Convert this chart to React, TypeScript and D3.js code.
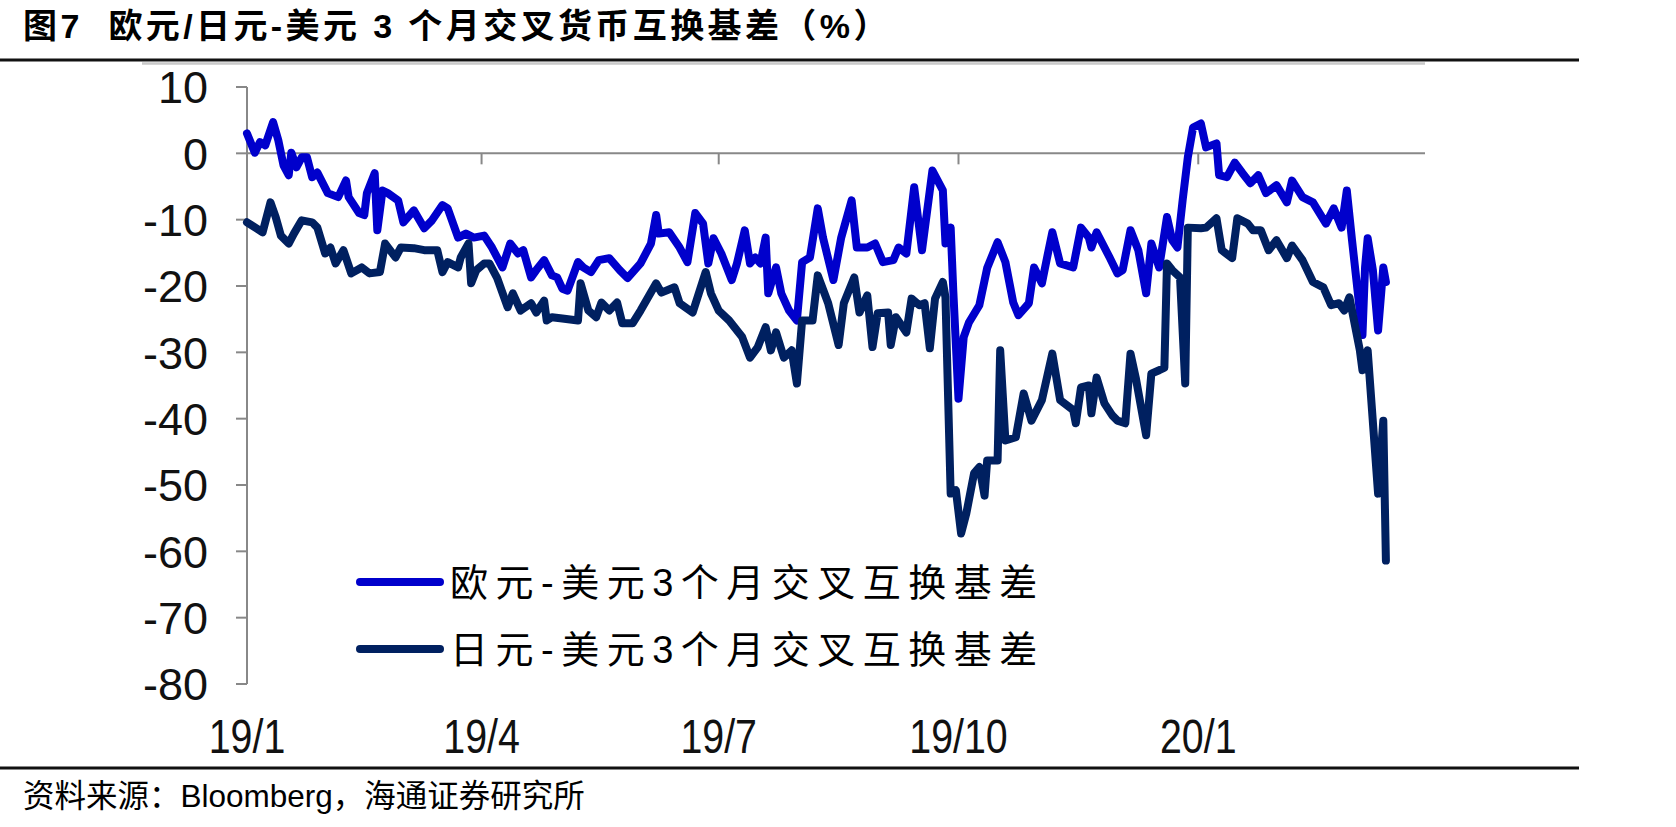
import * as d3 from 'd3';

// EUR-USD 3M cross currency basis (bp)
const eurDates = [
  '2019-01-01', '2019-01-04', '2019-01-06', '2019-01-08', '2019-01-11', '2019-01-13', '2019-01-15', '2019-01-17',
  '2019-01-18', '2019-01-20', '2019-01-22', '2019-01-24', '2019-01-26', '2019-01-28', '2019-02-01', '2019-02-05',
  '2019-02-08', '2019-02-09', '2019-02-13', '2019-02-15', '2019-02-16', '2019-02-19', '2019-02-20', '2019-02-22',
  '2019-02-24', '2019-02-28', '2019-03-02', '2019-03-06', '2019-03-10', '2019-03-13', '2019-03-17', '2019-03-19',
  '2019-03-23', '2019-03-26', '2019-03-29', '2019-04-02', '2019-04-05', '2019-04-09', '2019-04-12', '2019-04-15',
  '2019-04-17', '2019-04-20', '2019-04-22', '2019-04-25', '2019-04-28', '2019-04-30', '2019-05-02', '2019-05-04',
  '2019-05-08', '2019-05-10', '2019-05-13', '2019-05-16', '2019-05-20', '2019-05-24', '2019-05-27', '2019-06-01',
  '2019-06-05', '2019-06-07', '2019-06-08', '2019-06-12', '2019-06-16', '2019-06-19', '2019-06-22', '2019-06-25',
  '2019-06-27', '2019-06-29', '2019-07-02', '2019-07-06', '2019-07-08', '2019-07-11', '2019-07-13', '2019-07-15',
  '2019-07-17', '2019-07-19', '2019-07-20', '2019-07-23', '2019-07-25', '2019-07-28', '2019-07-31', '2019-08-02',
  '2019-08-05', '2019-08-08', '2019-08-10', '2019-08-14', '2019-08-17', '2019-08-21', '2019-08-23', '2019-08-27',
  '2019-08-30', '2019-09-02', '2019-09-06', '2019-09-08', '2019-09-11', '2019-09-14', '2019-09-17', '2019-09-21',
  '2019-09-25', '2019-09-26', '2019-09-28', '2019-09-29', '2019-10-01', '2019-10-03', '2019-10-05', '2019-10-09',
  '2019-10-12', '2019-10-16', '2019-10-19', '2019-10-22', '2019-10-24', '2019-10-28', '2019-10-30', '2019-11-02',
  '2019-11-04', '2019-11-06', '2019-11-09', '2019-11-14', '2019-11-17', '2019-11-20', '2019-11-21', '2019-11-23',
  '2019-11-28', '2019-12-01', '2019-12-03', '2019-12-06', '2019-12-09', '2019-12-12', '2019-12-14', '2019-12-17',
  '2019-12-20', '2019-12-22', '2019-12-24', '2019-12-26', '2019-12-28', '2019-12-30', '2020-01-02', '2020-01-04',
  '2020-01-06', '2020-01-08', '2020-01-09', '2020-01-12', '2020-01-15', '2020-01-18', '2020-01-21', '2020-01-24',
  '2020-01-27', '2020-01-31', '2020-02-04', '2020-02-06', '2020-02-10', '2020-02-14', '2020-02-19', '2020-02-22',
  '2020-02-25', '2020-02-27', '2020-02-29', '2020-03-04', '2020-03-05', '2020-03-06', '2020-03-08', '2020-03-10',
  '2020-03-12', '2020-03-13',
];
const eurBasis = [
  3.0, 0.1, 1.7, 1.2, 4.7, 2.0, -1.8, -3.3,
  0.1, -2.1, -0.6, -0.6, -3.6, -2.9, -6.0, -6.6,
  -4.1, -6.6, -9.0, -9.3, -6.0, -3.0, -11.6, -5.6,
  -6.0, -7.1, -10.4, -8.6, -11.3, -10.1, -7.8, -8.3,
  -12.7, -12.1, -12.7, -12.4, -14.2, -17.2, -13.6, -15.1,
  -14.6, -18.7, -17.6, -16.1, -18.4, -18.7, -20.4, -20.7,
  -16.4, -17.2, -17.9, -16.1, -15.8, -17.6, -18.8, -16.6,
  -13.6, -9.3, -12.1, -11.9, -14.2, -16.4, -9.0, -10.6,
  -16.6, -12.8, -15.1, -19.1, -16.6, -11.6, -16.6, -15.7,
  -16.6, -12.7, -21.1, -17.2, -21.1, -23.7, -25.2, -16.4,
  -15.7, -8.3, -12.7, -19.1, -12.7, -7.1, -14.2, -14.2,
  -13.6, -16.4, -16.1, -14.2, -15.1, -5.1, -14.6, -2.6,
  -5.6, -13.6, -11.2, -20.7, -37.0, -27.7, -25.5, -22.9,
  -17.3, -13.4, -16.4, -22.5, -24.4, -22.6, -17.2, -19.6,
  -15.7, -11.9, -16.6, -17.2, -11.2, -12.7, -14.2, -11.9,
  -15.7, -18.1, -17.6, -11.6, -14.6, -21.1, -13.6, -17.2,
  -9.6, -13.1, -14.2, -7.1, -0.6, 3.9, 4.5, 0.9,
  1.2, 1.5, -3.3, -3.6, -1.4, -3.0, -4.5, -3.3,
  -6.0, -4.8, -7.4, -4.1, -6.6, -7.4, -10.6, -8.3,
  -11.2, -5.6, -13.1, -27.4, -17.2, -12.8, -17.6, -26.7,
  -17.2, -19.4,
];

// JPY-USD 3M cross currency basis
const jpyDates = [
  '2019-01-01', '2019-01-07', '2019-01-10', '2019-01-12', '2019-01-14', '2019-01-17', '2019-01-19', '2019-01-22',
  '2019-01-26', '2019-01-28', '2019-01-31', '2019-02-02', '2019-02-04', '2019-02-07', '2019-02-10', '2019-02-14',
  '2019-02-17', '2019-02-21', '2019-02-23', '2019-02-27', '2019-03-01', '2019-03-06', '2019-03-10', '2019-03-15',
  '2019-03-17', '2019-03-19', '2019-03-23', '2019-03-24', '2019-03-27', '2019-03-28', '2019-03-30', '2019-04-02',
  '2019-04-04', '2019-04-07', '2019-04-11', '2019-04-13', '2019-04-16', '2019-04-20', '2019-04-22', '2019-04-25',
  '2019-04-26', '2019-04-28', '2019-05-02', '2019-05-08', '2019-05-09', '2019-05-12', '2019-05-15', '2019-05-17',
  '2019-05-20', '2019-05-23', '2019-05-25', '2019-05-29', '2019-06-01', '2019-06-07', '2019-06-09', '2019-06-14',
  '2019-06-16', '2019-06-21', '2019-06-26', '2019-06-28', '2019-07-01', '2019-07-05', '2019-07-10', '2019-07-13',
  '2019-07-16', '2019-07-19', '2019-07-21', '2019-07-23', '2019-07-26', '2019-07-29', '2019-07-31', '2019-08-02',
  '2019-08-06', '2019-08-08', '2019-08-12', '2019-08-16', '2019-08-18', '2019-08-22', '2019-08-24', '2019-08-27',
  '2019-08-29', '2019-08-31', '2019-09-04', '2019-09-05', '2019-09-07', '2019-09-11', '2019-09-13', '2019-09-16',
  '2019-09-18', '2019-09-20', '2019-09-22', '2019-09-25', '2019-09-26', '2019-09-28', '2019-09-30', '2019-10-02',
  '2019-10-04', '2019-10-07', '2019-10-09', '2019-10-11', '2019-10-12', '2019-10-16', '2019-10-17', '2019-10-19',
  '2019-10-23', '2019-10-26', '2019-10-29', '2019-11-02', '2019-11-06', '2019-11-09', '2019-11-14', '2019-11-15',
  '2019-11-17', '2019-11-20', '2019-11-21', '2019-11-23', '2019-11-26', '2019-11-29', '2019-12-01', '2019-12-04',
  '2019-12-06', '2019-12-08', '2019-12-12', '2019-12-14', '2019-12-17', '2019-12-19', '2019-12-20', '2019-12-22',
  '2019-12-25', '2019-12-27', '2019-12-28', '2020-01-02', '2020-01-04', '2020-01-08', '2020-01-10', '2020-01-14',
  '2020-01-16', '2020-01-20', '2020-01-22', '2020-01-25', '2020-01-28', '2020-01-31', '2020-02-04', '2020-02-06',
  '2020-02-10', '2020-02-14', '2020-02-18', '2020-02-21', '2020-02-24', '2020-02-26', '2020-02-28', '2020-03-03',
  '2020-03-04', '2020-03-06', '2020-03-10', '2020-03-12', '2020-03-13',
];
const jpyBasis = [
  -10.4, -11.9, -7.4, -9.6, -12.4, -13.6, -12.1, -10.1,
  -10.4, -11.2, -15.1, -14.2, -16.6, -14.6, -18.1, -17.2,
  -18.1, -17.9, -13.6, -15.7, -14.2, -14.3, -14.6, -14.6,
  -17.9, -16.4, -17.2, -15.7, -13.6, -19.6, -17.6, -16.6,
  -16.6, -18.8, -23.2, -21.1, -23.7, -22.6, -24.0, -22.2,
  -25.2, -24.7, -24.9, -25.2, -19.6, -23.7, -24.7, -22.5,
  -23.7, -22.5, -25.6, -25.6, -23.7, -19.6, -21.0, -20.2,
  -22.6, -24.0, -17.9, -21.1, -23.7, -25.2, -27.7, -30.8,
  -29.2, -26.2, -29.7, -27.0, -30.8, -29.7, -34.7, -25.2,
  -25.2, -18.4, -22.6, -28.9, -22.6, -18.7, -24.0, -21.4,
  -29.2, -24.1, -24.0, -28.9, -24.7, -27.0, -21.9, -22.9,
  -22.6, -29.4, -21.9, -19.4, -21.7, -51.3, -50.8, -57.3,
  -54.3, -48.2, -47.3, -51.6, -46.3, -46.3, -29.7, -43.3,
  -42.8, -36.2, -40.3, -37.2, -30.2, -37.2, -38.7, -40.7,
  -35.3, -35.0, -39.2, -33.8, -37.7, -39.5, -40.3, -40.7,
  -30.2, -33.8, -42.5, -33.2, -32.7, -32.3, -16.6, -17.6,
  -18.7, -34.7, -11.2, -11.3, -11.2, -9.8, -14.6, -15.8,
  -9.8, -10.6, -11.6, -11.6, -14.6, -13.1, -15.8, -13.9,
  -16.1, -19.4, -20.2, -22.9, -22.6, -23.7, -21.7, -29.7,
  -32.7, -29.7, -51.3, -40.3, -61.4,
];

const quarterTicks = ['2019-01-01', '2019-04-01', '2019-07-01', '2019-10-01', '2020-01-01'];
const quarterLabels = ['19/1', '19/4', '19/7', '19/10', '20/1'];
const yTicks = [10, 0, -10, -20, -30, -40, -50, -60, -70, -80];
const seriesNames = ['欧元-美元3个月交叉互换基差', '日元-美元3个月交叉互换基差'];
const seriesColors = ['#0000cc', '#002060'];

const W = 1676;
const H = 827;
const plot = { left: 247, right: 1425, top: 87, bottom: 684 };
const fontStack = "'Liberation Sans', Arial, 'Noto Sans CJK SC', sans-serif";

export default function App() {
  const parse = d3.utcParse('%Y-%m-%d');
  const x = d3.scaleUtc()
    .domain([parse('2019-01-01')!, parse('2020-03-28')!])
    .range([plot.left, plot.right]);
  const y = d3.scaleLinear().domain([-80, 10]).range([plot.bottom, plot.top]);

  const line = d3.line<[Date, number]>()
    .x(d => x(d[0]))
    .y(d => y(d[1]));

  const series = [
    eurDates.map((d, i) => [parse(d)!, eurBasis[i]] as [Date, number]),
    jpyDates.map((d, i) => [parse(d)!, jpyBasis[i]] as [Date, number]),
  ];

  const axisColor = '#888888';

  return (
    <svg
      width={W}
      height={H}
      viewBox={`0 0 ${W} ${H}`}
      style={{ position: 'absolute', left: 0, top: 0, background: '#fff' }}
    >
      {/* title */}
      <text
        x={23}
        y={38}
        fontFamily={fontStack}
        fontWeight={700}
        fontSize={34}
        letterSpacing={3.4}
        style={{ whiteSpace: 'pre' }}
        fill="#000"
      >
        {'图7  欧元/日元-美元 3 个月交叉货币互换基差（%）'}
      </text>
      <line x1={0} x2={1579} y1={60} y2={60} stroke="#111" strokeWidth={3} />
      <line x1={142} x2={plot.right} y1={63.5} y2={63.5} stroke="#c8c8c8" strokeWidth={2.5} />

      {/* y axis */}
      <line x1={plot.left} x2={plot.left} y1={y(10)} y2={y(-80)} stroke={axisColor} strokeWidth={2} />
      {yTicks.map(t => (
        <g key={t}>
          <line x1={plot.left - 11} x2={plot.left} y1={y(t)} y2={y(t)} stroke={axisColor} strokeWidth={2} />
          <text
            x={208}
            y={y(t)}
            dy="0.36em"
            textAnchor="end"
            fontFamily={fontStack}
            fontSize={45}
            fill="#111"
          >
            {t}
          </text>
        </g>
      ))}

      {/* x axis on the zero line */}
      <line x1={plot.left} x2={plot.right} y1={y(0)} y2={y(0)} stroke={axisColor} strokeWidth={2} />
      {quarterTicks.map((t, i) => {
        const px = x(parse(t)!);
        return (
          <g key={t}>
            <line x1={px} x2={px} y1={y(0)} y2={y(0) + 11} stroke={axisColor} strokeWidth={2} />
            <text
              transform={`translate(${px},753) scale(0.82,1)`}
              textAnchor="middle"
              fontFamily={fontStack}
              fontSize={48}
              fill="#111"
            >
              {quarterLabels[i]}
            </text>
          </g>
        );
      })}

      {/* series */}
      {series.map((s, i) => (
        <path
          key={i}
          d={line(s) ?? ''}
          fill="none"
          stroke={seriesColors[i]}
          strokeWidth={8}
          strokeLinejoin="round"
          strokeLinecap="round"
        />
      ))}

      {/* legend */}
      {seriesNames.map((name, i) => {
        const ly = 582 + i * 67;
        return (
          <g key={name}>
            <line x1={360} x2={440} y1={ly} y2={ly} stroke={seriesColors[i]} strokeWidth={8} strokeLinecap="round" />
            <text
              x={450}
              y={ly + 14}
              fontFamily={fontStack}
              fontSize={38}
              letterSpacing={7.5}
              fill="#000"
            >
              {name}
            </text>
          </g>
        );
      })}

      {/* source */}
      <line x1={0} x2={1579} y1={768} y2={768} stroke="#111" strokeWidth={3} />
      <text x={23} y={807} fontFamily={fontStack} fontSize={31.5} fill="#000">
        资料来源：Bloomberg，海通证券研究所
      </text>
    </svg>
  );
}
